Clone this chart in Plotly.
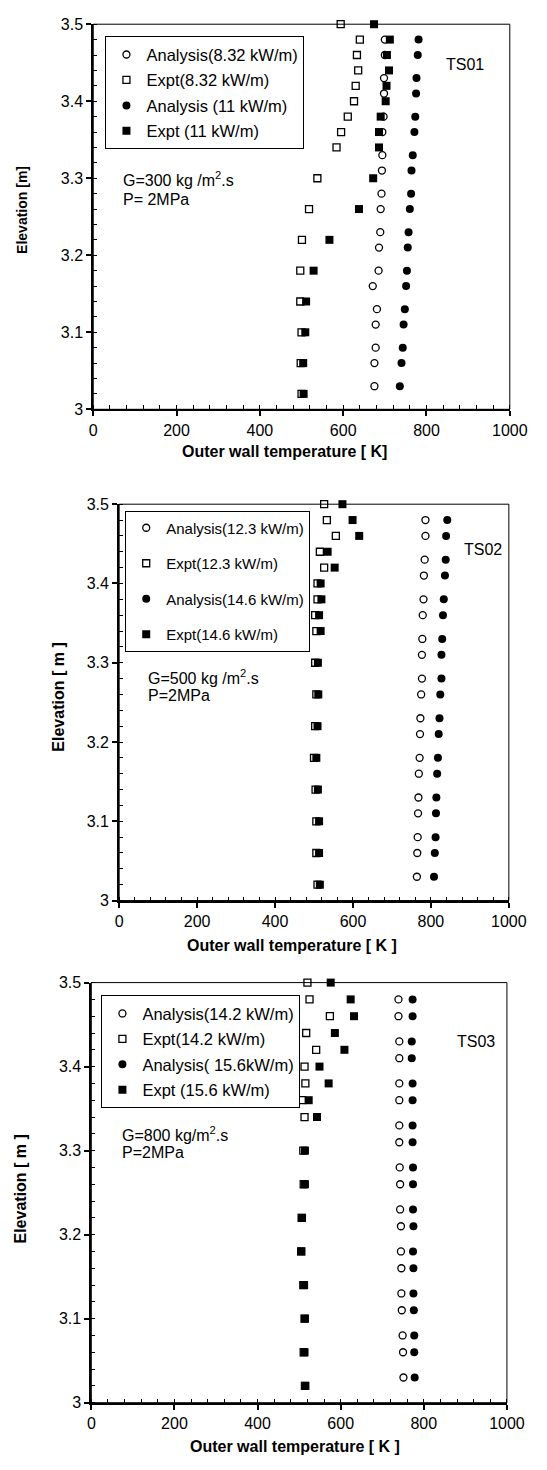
import plotly.graph_objects as go

# ---------------- data ----------------
elev_analysis = [3.48, 3.46, 3.43, 3.41, 3.38, 3.36, 3.33, 3.31, 3.28, 3.26,
                 3.23, 3.21, 3.18, 3.16, 3.13, 3.11, 3.08, 3.06, 3.03]
elev_expt = [3.50, 3.48, 3.46, 3.44, 3.42, 3.40, 3.38, 3.36, 3.34, 3.30,
             3.26, 3.22, 3.18, 3.14, 3.10, 3.06, 3.02]

# TS01
ts01_ana_lo = [700, 700, 698, 698, 697, 694, 694, 693, 692, 690, 689, 686, 685, 671, 681, 678, 678, 675, 675]
ts01_exp_lo = [594, 640, 633, 636, 630, 626, 611, 595, 584, 538, 518, 501, 497, 497, 500, 498, 500]
ts01_ana_hi = [781, 779, 776, 775, 773, 771, 767, 764, 763, 760, 757, 755, 753, 751, 748, 745, 743, 740, 736]
ts01_exp_hi = [674, 712, 705, 710, 704, 702, 690, 686, 686, 672, 638, 567, 529, 511, 509, 504, 505]
# TS02
ts02_ana_lo = [786, 786, 784, 782, 781, 779, 778, 777, 777, 775, 773, 772, 771, 769, 768, 767, 766, 765, 764]
ts02_exp_lo = [526, 533, 556, 515, 526, 509, 509, 503, 506, 503, 506, 503, 500, 504, 506, 506, 509]
ts02_ana_hi = [842, 839, 838, 836, 833, 831, 829, 827, 827, 824, 822, 820, 818, 816, 814, 813, 812, 810, 808]
ts02_exp_hi = [573, 599, 616, 535, 553, 517, 519, 513, 517, 510, 511, 509, 506, 510, 513, 513, 515]
# TS03
ts03_ana_lo = [739, 739, 741, 741, 741, 741, 741, 741, 742, 743, 743, 745, 745, 746, 746, 747, 749, 750, 751]
ts03_exp_lo = [520, 525, 574, 517, 541, 513, 515, 507, 513, 510, 511, 506, 505, 510, 513, 511, 514]
ts03_ana_hi = [773, 773, 771, 771, 773, 773, 773, 773, 774, 774, 774, 775, 774, 775, 775, 776, 777, 777, 778]
ts03_exp_hi = [576, 624, 632, 586, 609, 549, 571, 523, 543, 514, 514, 507, 505, 512, 514, 513, 515]

legend_names = [
    ["Analysis(8.32 kW/m)", "Expt(8.32 kW/m)", "Analysis (11 kW/m)", "Expt (11 kW/m)"],
    ["Analysis(12.3 kW/m)", "Expt(12.3 kW/m)", "Analysis(14.6 kW/m)", "Expt(14.6 kW/m)"],
    ["Analysis(14.2 kW/m)", "Expt(14.2 kW/m)", "Analysis( 15.6kW/m)", "Expt (15.6 kW/m)"],
]
case_labels = ["TS01", "TS02", "TS03"]
cond_labels = [
    ["G=300 kg /m<sup>2</sup>.s", "P= 2MPa"],
    ["G=500 kg /m<sup>2</sup>.s", "P=2MPa"],
    ["G=800 kg/m<sup>2</sup>.s", "P=2MPa"],
]
x_titles = ["Outer wall temperature [ K]", "Outer wall temperature [ K ]", "Outer wall temperature [ K ]"]
y_titles = ["Elevation [m]", "Elevation [ m ]", "Elevation [ m ]"]

series = [
    [ts01_ana_lo, ts01_exp_lo, ts01_ana_hi, ts01_exp_hi],
    [ts02_ana_lo, ts02_exp_lo, ts02_ana_hi, ts02_exp_hi],
    [ts03_ana_lo, ts03_exp_lo, ts03_ana_hi, ts03_exp_hi],
]

# ---------------- layout helpers ----------------
W, H = 547, 1470
FONT = "Liberation Sans, Arial, Helvetica, sans-serif"


def fx(px):
    return px / W


def fy(py):
    return 1 - py / H


# plot frames in pixels: (left, right, top, bottom)
frames = [(93, 527, 16.4, 406), (120, 526, 502, 903), (91, 524, 986, 1411)]
legend_pos = [(105.7, 28.6), (126.3, 508.4), (101.5, 998.8)]
legend_font = [16.5, 15, 16.5]
legend_gap = [1, 13, 1]
case_pos = [(480, 57.6), (499, 547.5), (492, 1046)]
cond_pos = [(122, 173.3, 193.3), (147.7, 677.3, 696), (120.4, 1139, 1158)]
xt_pos = [(292.5, 449), (300, 948), (302.7, 1455)]
yt_pos = [(18, 204, 14), (57, 697, 16), (17, 1195, 16)]

fig = go.Figure()

styles = [
    dict(symbol="circle-open", size=7, color="black", line=dict(width=1.3, color="black")),
    dict(symbol="square-open", size=7, color="black", line=dict(width=1.3, color="black")),
    dict(symbol="circle", size=8, color="black", line=dict(width=0)),
    dict(symbol="square", size=8, color="black", line=dict(width=0)),
]

for p in range(3):
    ax = "" if p == 0 else str(p + 1)
    leg = "legend" if p == 0 else "legend" + str(p + 1)
    for k in range(4):
        ys = elev_analysis if k in (0, 2) else elev_expt
        fig.add_trace(go.Scatter(
            x=series[p][k], y=ys, mode="markers", name=legend_names[p][k],
            marker=styles[k], xaxis="x" + ax, yaxis="y" + ax,
            legend=leg, legendgroup=f"g{p}{k}", cliponaxis=False,
            showlegend=True,
        ))

layout = dict(
    width=W, height=H, margin=dict(l=0, r=0, t=0, b=0),
    paper_bgcolor="white", plot_bgcolor="white",
    font=dict(family=FONT, color="black", size=16),
    showlegend=True, annotations=[], shapes=[],
)

for p in range(3):
    ax = "" if p == 0 else str(p + 1)
    l, r, t, b = frames[p]
    layout["xaxis" + ax] = dict(
        domain=[fx(l), fx(r)], anchor="y" + ax, range=[0, 1000], tick0=0, dtick=200,
        ticks="outside", ticklen=5, tickwidth=1.5, tickcolor="black",
        showline=True, linewidth=2, linecolor="black", showgrid=False, zeroline=False,
        tickfont=dict(family=FONT, size=16, color="black"), fixedrange=True,
        minor=dict(dtick=40, tick0=0, ticks="inside", ticklen=4, tickwidth=1,
                   tickcolor="black", showgrid=False),
    )
    layout["yaxis" + ax] = dict(
        domain=[fy(b), fy(t)], anchor="x" + ax, range=[3, 3.5], tick0=3, dtick=0.1,
        ticks="outside", ticklen=5, tickwidth=1.5, tickcolor="black",
        showline=True, linewidth=2, linecolor="black", showgrid=False, zeroline=False,
        tickfont=dict(family=FONT, size=16, color="black"), fixedrange=True,
        minor=dict(dtick=0.02, tick0=3, ticks="inside", ticklen=4, tickwidth=1,
                   tickcolor="black", showgrid=False),
    )
    # frame
    layout["shapes"].append(dict(
        type="rect", xref=f"x{ax} domain", yref=f"y{ax} domain",
        x0=0, x1=1, y0=0, y1=1, line=dict(color="black", width=1), layer="above",
    ))
    # legend
    lx, ly = legend_pos[p]
    layout["legend" if p == 0 else "legend" + str(p + 1)] = dict(
        x=fx(lx), y=fy(ly), xanchor="left", yanchor="top",
        bgcolor="white", bordercolor="black", borderwidth=1,
        font=dict(family=FONT, size=legend_font[p], color="black"),
        traceorder="grouped", tracegroupgap=legend_gap[p], itemclick=False,
    )
    # labels
    cx, cy = case_pos[p]
    layout["annotations"].append(dict(
        text=case_labels[p], x=fx(cx), y=fy(cy), xref="paper", yref="paper",
        showarrow=False, xanchor="center", yanchor="middle",
        font=dict(family=FONT, size=16, color="black"),
    ))
    gx, gy1, gy2 = cond_pos[p]
    for txt, gy in zip(cond_labels[p], (gy1, gy2)):
        layout["annotations"].append(dict(
            text=txt, x=fx(gx), y=fy(gy), xref="paper", yref="paper",
            showarrow=False, xanchor="left", yanchor="middle",
            font=dict(family=FONT, size=16, color="black"),
        ))
    tx, ty = xt_pos[p]
    layout["annotations"].append(dict(
        text="<b>" + x_titles[p] + "</b>", x=fx(tx), y=fy(ty), xref="paper", yref="paper",
        showarrow=False, xanchor="center", yanchor="middle",
        font=dict(family=FONT, size=16, color="black"),
    ))
    vx, vy, vs = yt_pos[p]
    layout["annotations"].append(dict(
        text="<b>" + y_titles[p] + "</b>", x=fx(vx), y=fy(vy), xref="paper", yref="paper",
        showarrow=False, xanchor="center", yanchor="middle", textangle=-90,
        font=dict(family=FONT, size=vs, color="black"),
    ))

fig.update_layout(**layout)
fig.write_html("out.html", config={"displayModeBar": False})
